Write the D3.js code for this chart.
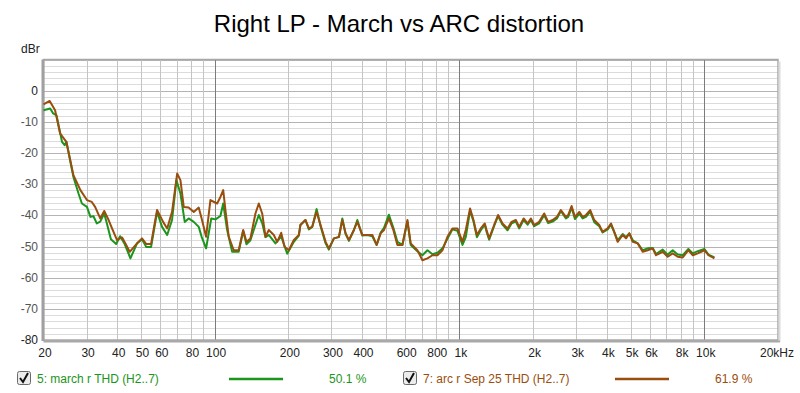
<!DOCTYPE html>
<html lang="en">
<head>
  <meta charset="UTF-8">
  <title>Right LP - March vs ARC distortion</title>
  <script src="https://d3js.org/d3.v7.min.js"></script>
  <style>
    body { margin: 0; background: #fff; }
    svg { font-family: "Liberation Sans", Arial, sans-serif; }
  </style>
</head>
<body>
  <svg width="800" height="393"></svg>
  <script>
    // brown trace: arc r Sep 25 THD (H2..7)
    const arcFreq = [20, 21.2, 22.3, 23.4, 24.8, 26.5, 28.3, 30.1, 31.5, 32.5, 34.1, 35.4, 36.9, 38.1, 39.9, 41.9, 43.2, 45, 48.2, 50.5, 52.6, 55, 58.2, 61.6, 64, 67, 70.3, 72.5, 74.8, 78.3, 82.2, 86.1, 88.5, 92.3, 96.1, 100,
      102.4, 105.6, 108.4, 110.7, 114.2, 119.7, 125.4, 130.8, 134.9, 140, 146.8, 151.5, 156.4, 161.4, 166.4, 174.5, 180.1, 187, 193, 200.9, 210.6, 220.8, 224, 235, 242.6, 250.4, 260.9, 270.8, 284, 292.8, 307, 321.9, 332.3, 342.8, 353.6, 370.6, 382.7, 401, 420.3, 440.6, 459, 476.6, 491.8, 515, 537, 557.8, 584.6, 613, 632.2, 673.2, 705.9, 740, 775.7, 813, 852.4, 893, 936, 981.4, 1029, 1061, 1105,
      1141, 1178, 1222, 1269, 1293, 1322, 1385, 1438, 1499, 1572, 1632, 1699, 1753, 1828, 1898, 1957, 2019, 2115, 2218, 2303, 2401, 2501, 2595, 2721, 2780, 2871, 2962, 3086, 3185, 3286, 3420, 3553, 3724, 3844, 4030, 4157, 4289, 4427, 4641, 4789, 4941, 5101, 5346, 5603, 5873, 6155, 6350, 6763, 7089, 7430, 7788, 8163, 8612, 8975, 9407, 10015, 10398, 11000];
    const arcDb = [-4.4, -3.3, -6.3, -13.8, -16.4, -27.1, -31.9, -35.1, -35.7, -37.3, -41.0, -38.6, -41.5, -44.2, -47.9, -47.1, -49.0, -51.7, -49.0, -47.4, -49.2, -49.2, -38.3, -42.1, -44.2, -38.9, -26.6, -28.7, -37.3, -37.5, -38.9, -37.5, -41.0, -46.9, -35.1, -35.8,
      -36.2, -34.1, -31.9, -38.3, -46.9, -51.2, -51.2, -44.7, -48.5, -47.4, -39.4, -36.2, -39.4, -46.9, -44.7, -46.3, -48.5, -45.6, -50.1, -51.2, -47.9, -46.3, -43.1, -41.5, -44.2, -43.7, -38.9, -43.1, -48.5, -50.6, -47.4, -46.9, -41.5, -45.8, -47.9, -44.7, -42.1, -46.3, -46.3, -46.3, -49.5, -45.8, -44.7, -41.0, -44.7, -49.5, -49.5, -41.5, -49.0, -51.2, -54.4, -53.8, -52.8, -52.8, -51.2, -46.9, -44.2, -44.2, -48.5, -44.7, -37.8,
      -41.5, -46.3, -44.2, -42.6, -45.0, -47.4, -43.1, -39.9, -42.6, -44.2, -42.1, -41.5, -43.7, -41.0, -42.6, -41.0, -43.1, -42.1, -39.4, -42.1, -41.5, -40.5, -38.3, -40.5, -39.9, -37.0, -40.5, -38.9, -40.5, -39.9, -38.3, -41.5, -43.1, -45.3, -44.2, -42.6, -45.3, -48.5, -46.3, -47.4, -45.8, -48.5, -49.0, -51.7, -51.2, -50.6, -52.8, -51.7, -53.3, -52.2, -53.3, -53.5, -51.2, -52.8, -52.2, -51.2, -52.8, -53.8];

    // green trace: march r THD (H2..7)
    const marchFreq = [20, 21.3, 21.9, 22.6, 23.8, 24.4, 24.8, 26.5, 27.8, 28.7, 30.1, 31.1, 32, 33, 34.1, 35.4, 36.3, 37.7, 39.6, 41.1, 42.8, 45.3, 48.2, 50.5, 52.6, 55, 58.2, 61, 64, 67, 69.8, 72.5, 75.5, 78.3, 82.2, 86.1, 88.5, 92.3, 96.9, 100.8,
      105.6, 108.4, 112.5, 117.9, 125.4, 130.8, 134.9, 140, 146.8, 151.5, 156.4, 161.4, 166.4, 177.2, 187, 197.9, 210.6, 220.8, 224, 235, 242.6, 250.4, 260.9, 270.8, 284, 292.8, 307, 321.9, 332.3, 342.8, 353.6, 370.6, 382.7, 401, 420.3, 440.6, 459, 476.6, 491.8, 515, 537, 557.8, 584.6, 613, 632.2, 673.2, 705.9, 740, 775.7, 813, 852.4, 893, 936, 981.4, 1029, 1061, 1105,
      1141, 1178, 1222, 1269, 1293, 1322, 1385, 1438, 1499, 1572, 1632, 1699, 1753, 1828, 1898, 1957, 2019, 2115, 2218, 2303, 2401, 2501, 2595, 2721, 2780, 2871, 2962, 3086, 3185, 3286, 3420, 3553, 3724, 3844, 4030, 4157, 4289, 4427, 4641, 4789, 4941, 5101, 5346, 5603, 5873, 6155, 6350, 6763, 7089, 7430, 7788, 8163, 8612, 8975, 9407, 10015, 10398, 11000];
    const marchDb = [-6.3, -5.7, -7.3, -7.9, -16.4, -17.5, -16.4, -27.7, -33.0, -36.2, -37.3, -40.5, -40.3, -42.6, -42.0, -39.4, -42.6, -47.7, -49.2, -46.7, -49.0, -53.8, -49.0, -47.7, -50.2, -50.2, -38.9, -43.7, -46.3, -41.5, -28.7, -33.0, -42.1, -41.0, -42.1, -43.7, -46.9, -50.6, -41.0, -41.3,
      -40.2, -36.2, -44.7, -51.7, -51.7, -45.0, -49.3, -48.0, -43.0, -39.9, -42.5, -47.0, -46.3, -49.0, -46.8, -52.3, -48.5, -46.5, -43.1, -41.5, -44.5, -43.7, -38.0, -43.5, -49.0, -51.0, -47.4, -47.0, -41.0, -46.0, -48.2, -44.7, -41.5, -46.5, -46.3, -46.7, -49.5, -45.5, -44.0, -39.8, -44.0, -48.5, -49.5, -42.0, -49.5, -51.5, -52.8, -51.2, -52.5, -52.0, -50.6, -47.5, -44.5, -45.0, -49.5, -47.0, -38.5,
      -42.0, -47.0, -44.8, -43.0, -45.5, -47.8, -43.5, -40.2, -43.0, -44.8, -42.6, -42.0, -44.2, -41.5, -43.0, -41.5, -43.5, -42.6, -40.0, -42.5, -42.0, -41.0, -38.6, -41.0, -40.5, -37.5, -41.2, -39.5, -41.0, -40.5, -38.8, -42.2, -43.5, -45.5, -44.5, -43.0, -45.5, -48.0, -46.0, -47.0, -45.8, -48.0, -49.0, -51.2, -50.6, -50.5, -52.4, -51.0, -52.6, -51.2, -52.6, -52.8, -50.8, -52.2, -51.5, -50.8, -52.6, -53.5];

    const xTicks = [20, 30, 40, 50, 60, 80, 100, 200, 300, 400, 600, 800, 1000, 2000, 3000, 4000, 5000, 6000, 8000, 10000, 20000];
    const xTickLabels = ["20", "30", "40", "50", "60", "80", "100", "200", "300", "400", "600", "800", "1k", "2k", "3k", "4k", "5k", "6k", "8k", "10k", "20kHz"];
    const yTicks = [0, -10, -20, -30, -40, -50, -60, -70, -80];

    const legendItems = [
      { name: "5: march r THD (H2..7)", value: "50.1 %", color: "#1b951b" },
      { name: "7: arc r Sep 25 THD (H2..7)", value: "61.9 %", color: "#9a4e0e" }
    ];

    const svg = d3.select("svg");
    const plotLeft = 43.5, plotRight = 778, plotTop = 59.5, plotBottom = 340;

    const x = d3.scaleLog().domain([20, 20000]).range([plotLeft, plotRight]);
    const y = d3.scaleLinear().domain([-80, 10]).range([plotBottom, plotTop]);

    svg.append("text")
      .attr("x", 399).attr("y", 32)
      .attr("text-anchor", "middle")
      .attr("font-size", 24)
      .attr("fill", "#000")
      .text("Right LP - March vs ARC distortion");

    svg.append("text")
      .attr("x", 21).attr("y", 53)
      .attr("font-size", 12)
      .attr("fill", "#222")
      .text("dBr");

    // grid
    const grid = svg.append("g");
    const minorY = d3.range(-80, 10.1, 2);
    grid.selectAll("line.hy").data(minorY).join("line")
      .attr("class", "hy")
      .attr("x1", plotLeft).attr("x2", plotRight)
      .attr("y1", d => Math.round(y(d)) + 0.5).attr("y2", d => Math.round(y(d)) + 0.5)
      .attr("stroke", d => d % 10 === 0 ? "#b4b4b4" : "#dcdcdc")
      .attr("stroke-width", 1);

    const minorX = [];
    [10, 100, 1000, 10000].forEach(dec => {
      for (let k = 1; k <= 9; k++) {
        const f = k * dec;
        if (f > 20 && f < 20000) minorX.push(f);
      }
    });
    grid.selectAll("line.vx").data(minorX).join("line")
      .attr("class", "vx")
      .attr("x1", d => Math.round(x(d)) + 0.5).attr("x2", d => Math.round(x(d)) + 0.5)
      .attr("y1", plotTop).attr("y2", plotBottom)
      .attr("stroke", d => [100, 1000, 10000].includes(d) ? "#7c7c7c" : "#c4c4c4")
      .attr("stroke-width", 1);

    // frame
    svg.append("rect")
      .attr("x", plotLeft).attr("y", plotTop)
      .attr("width", plotRight - plotLeft).attr("height", plotBottom - plotTop)
      .attr("fill", "none").attr("stroke", "#a8a8a8").attr("stroke-width", 1.5);
    svg.append("line")
      .attr("x1", plotLeft - 0.5).attr("x2", plotLeft - 0.5).attr("y1", plotTop).attr("y2", plotBottom + 1)
      .attr("stroke", "#a0a0a0").attr("stroke-width", 3);
    svg.append("line")
      .attr("x1", plotRight + 1.5).attr("x2", plotRight + 1.5).attr("y1", plotTop + 2).attr("y2", plotBottom + 2)
      .attr("stroke", "#dcdcdc").attr("stroke-width", 2);
    svg.append("line")
      .attr("x1", plotLeft).attr("x2", plotRight + 2).attr("y1", plotBottom + 1.5).attr("y2", plotBottom + 1.5)
      .attr("stroke", "#a8a8a8").attr("stroke-width", 2);

    // axes labels
    svg.append("g").selectAll("text").data(yTicks).join("text")
      .attr("x", 38).attr("y", d => y(d) + 4)
      .attr("text-anchor", "end")
      .attr("font-size", 12)
      .attr("fill", d => d === 0 || d === -80 ? "#222" : "#555")
      .text(d => d);

    svg.append("g").selectAll("text").data(xTicks).join("text")
      .attr("x", (d, i) => i === xTicks.length - 1 ? x(d) - 18 : x(d) + 1.5)
      .attr("y", 357)
      .attr("text-anchor", (d, i) => i === xTicks.length - 1 ? "start" : "middle")
      .attr("font-size", 12)
      .attr("fill", "#222")
      .text((d, i) => xTickLabels[i]);

    // traces
    const line = d3.line().x(d => x(d[0])).y(d => y(d[1]));
    const march = marchFreq.map((f, i) => [f, marchDb[i]]);
    const arc = arcFreq.map((f, i) => [f, arcDb[i]]);

    const plot = svg.append("g");
    plot.append("path").datum(march).attr("d", line)
      .attr("fill", "none").attr("stroke", legendItems[0].color).attr("stroke-width", 2)
      .attr("stroke-linejoin", "round");
    plot.append("path").datum(arc).attr("d", line)
      .attr("fill", "none").attr("stroke", legendItems[1].color).attr("stroke-width", 2)
      .attr("stroke-linejoin", "round");

    // legend
    const legendX = [17, 403];
    legendItems.forEach((item, i) => {
      const g = svg.append("g").attr("transform", `translate(${legendX[i]},371)`);
      g.append("rect").attr("x", 0.5).attr("y", 0.5).attr("width", 13).attr("height", 13)
        .attr("rx", 2).attr("fill", "#ececec").attr("stroke", "#6a6a6a");
      g.append("path").attr("d", "M3,7 L6,11 L11,2")
        .attr("fill", "none").attr("stroke", "#111").attr("stroke-width", 2);
      g.append("text").attr("x", 20).attr("y", 12)
        .attr("font-size", 12).attr("fill", item.color).text(item.name);
      g.append("line").attr("x1", 212).attr("x2", 266).attr("y1", 8).attr("y2", 8)
        .attr("stroke", item.color).attr("stroke-width", 2.5);
      g.append("text").attr("x", 312).attr("y", 12)
        .attr("font-size", 12).attr("fill", item.color).text(item.value);
    });
  </script>
</body>
</html>
